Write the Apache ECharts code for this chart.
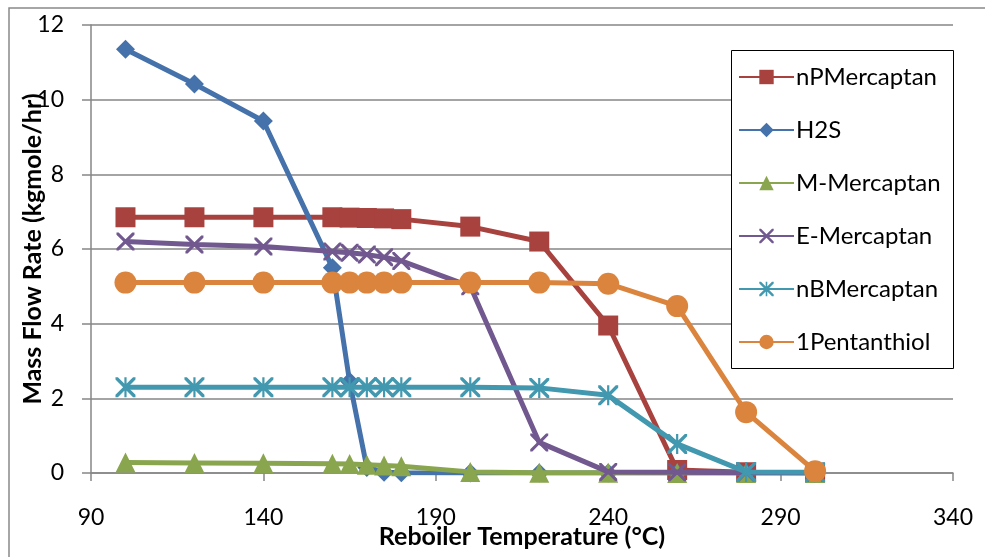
<!DOCTYPE html>
<html>
<head>
<meta charset="utf-8">
<script src="https://cdn.jsdelivr.net/npm/echarts@6/dist/echarts.min.js"></script>
<style>
  html, body { margin: 0; padding: 0; background: #ffffff; }
  #chart { width: 985px; height: 557px; }
</style>
</head>
<body>
<div id="chart"></div>
<script>
// Reboiler temperatures (°C) at which the column was simulated
const temperatures = [100, 120, 140, 160, 165, 170, 175, 180, 200, 220, 240, 260, 280, 300];

// Mass flow rates (kgmole/hr) of each sulphur species in the product
const nPMercaptan  = [6.85, 6.85, 6.85, 6.85, 6.84, 6.83, 6.82, 6.80, 6.60, 6.20, 3.95, 0.08, 0.02, 0.01];
const h2s          = [11.35, 10.42, 9.43, 5.50, 2.45, 0.15, 0.02, 0.01, 0, 0, 0, 0, 0, 0];
const mMercaptan   = [0.28, 0.27, 0.26, 0.25, 0.24, 0.22, 0.20, 0.18, 0.03, 0.01, 0.01, 0, 0, 0];
const eMercaptan   = [6.20, 6.12, 6.07, 5.93, 5.90, 5.85, 5.78, 5.68, 5.00, 0.82, 0.03, 0.02, 0.01, 0];
const nBMercaptan  = [2.30, 2.30, 2.30, 2.30, 2.30, 2.30, 2.30, 2.30, 2.30, 2.28, 2.08, 0.78, 0.03, 0.02];
const pentanthiol  = [5.10, 5.10, 5.10, 5.10, 5.10, 5.10, 5.10, 5.10, 5.10, 5.10, 5.07, 4.47, 1.63, 0.05];

const seriesNames = ['nPMercaptan', 'H2S', 'M-Mercaptan', 'E-Mercaptan', 'nBMercaptan', '1Pentanthiol'];
const seriesData  = [nPMercaptan, h2s, mMercaptan, eMercaptan, nBMercaptan, pentanthiol];

// Axis ranges
const xMin = 90, xMax = 340, xStep = 50;
const yMin = 0, yMax = 12, yStep = 2;

const colors = ['#A8423F', '#4572AB', '#89A54E', '#71588F', '#4198AF', '#DB843D'];

// Cross marker and asterisk marker as filled outlines
const crossPath = 'path://M0,0 L2.4,0 L10,7.6 L17.6,0 L20,0 L20,2.4 L12.4,10 L20,17.6 L20,20 L17.6,20 L10,12.4 L2.4,20 L0,20 L0,17.6 L7.6,10 L0,2.4 Z';
const starPath = crossPath + ' M8.9,0 L11.1,0 L11.1,20 L8.9,20 Z';

const symbols = ['rect', 'diamond', 'triangle', crossPath, starPath, 'circle'];
const symbolSizes = [20, 19, 20, 18, 20, 22];

const fontFamily = 'Lato, "Liberation Sans", sans-serif';

const chart = echarts.init(document.getElementById('chart'), null, { renderer: 'canvas' });

chart.setOption({
  backgroundColor: '#ffffff',
  animation: false,
  color: colors,
  grid: { left: 91, right: 32, top: 25, bottom: 84, containLabel: false, outerBoundsMode: 'none' },
  xAxis: {
    type: 'value',
    min: xMin, max: xMax, interval: xStep,
    name: 'Reboiler Temperature (°C)',
    nameLocation: 'middle',
    nameGap: 51,
    nameMoveOverlap: false,
    nameTextStyle: { fontFamily, fontWeight: 'bold', fontSize: 25, color: '#000' },
    axisLine: { show: true, lineStyle: { color: '#868686', width: 1.5 } },
    axisTick: { show: true, length: 8, lineStyle: { color: '#868686', width: 1.5 } },
    axisLabel: { fontFamily, fontSize: 23, color: '#000', margin: 33 },
    splitLine: { show: false }
  },
  yAxis: {
    type: 'value',
    min: yMin, max: yMax, interval: yStep,
    name: 'Mass Flow Rate (kgmole/hr)',
    nameLocation: 'middle',
    nameGap: 46,
    nameMoveOverlap: false,
    nameTextStyle: { fontFamily, fontWeight: 'bold', fontSize: 25, color: '#000' },
    axisLine: { show: true, lineStyle: { color: '#868686', width: 1.5 } },
    axisTick: { show: true, length: 9, lineStyle: { color: '#868686', width: 1.5 } },
    axisLabel: { fontFamily, fontSize: 23, color: '#000', margin: 27 },
    splitLine: { show: true, lineStyle: { color: '#868686', width: 1.5 } }
  },
  legend: {
    orient: 'vertical',
    left: 738,
    top: 65,
    padding: 0,
    itemWidth: 55,
    itemHeight: 18,
    itemGap: 29,
    z: 10,
    textStyle: { fontFamily, fontSize: 24, color: '#000', padding: [0, 0, 0, -3] },
    data: seriesNames
  },
  graphic: [
    {
      // chart frame
      type: 'rect',
      z: 0,
      silent: true,
      shape: { x: 9, y: 8, width: 990, height: 570 },
      style: { fill: 'none', stroke: '#898989', lineWidth: 1.5 }
    },
    {
      // legend box
      type: 'rect',
      z: 9,
      silent: true,
      shape: { x: 731.5, y: 50.5, width: 222, height: 318 },
      style: { fill: '#ffffff', stroke: '#000000', lineWidth: 1 }
    }
  ],
  series: seriesNames.map((name, i) => ({
    name,
    type: 'line',
    data: temperatures.map((t, k) => [t, seriesData[i][k]]),
    symbol: symbols[i],
    symbolSize: symbolSizes[i],
    showAllSymbol: true,
    lineStyle: { width: 5, color: colors[i] },
    itemStyle: { color: colors[i], borderWidth: 0 },
    z: 2 + i * 0.1,
    emphasis: { disabled: true }
  }))
});
</script>
</body>
</html>
